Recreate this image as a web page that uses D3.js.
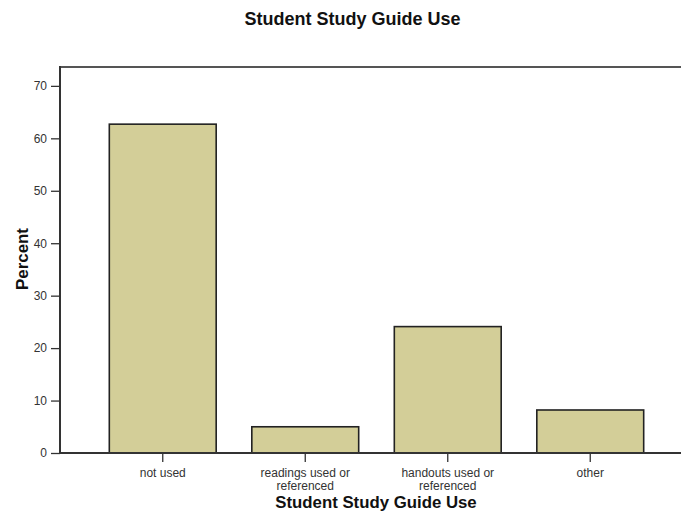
<!DOCTYPE html>
<html>
<head>
<meta charset="utf-8">
<script src="https://cdn.jsdelivr.net/npm/d3@7/dist/d3.min.js"></script>
<style>
  html, body { margin: 0; padding: 0; background: #fff; overflow: hidden; }
  svg { display: block; }
</style>
</head>
<body>
<svg id="chart" width="681" height="517"></svg>
<script>
const categories = ["not used", "readings used or referenced", "handouts used or referenced", "other"];
const categoryLines = [["not used"], ["readings used or", "referenced"], ["handouts used or", "referenced"], ["other"]];
const percentValues = [62.7, 5.0, 24.1, 8.2];
const yTicks = [0, 10, 20, 30, 40, 50, 60, 70];
const chartTitle = "Student Study Guide Use";
const xTitle = "Student Study Guide Use";
const yTitle = "Percent";

const svg = d3.select("#chart");
const W = 681, H = 517;
const frameLeft = 60, frameTop = 67, baseY = 453;
const sans = "Liberation Sans, Arial, sans-serif";

const x = d3.scaleBand().domain(categories).range([91.5, 661.5]).paddingInner(0.25).paddingOuter(0.125);
const y = d3.scaleLinear().domain([0, 73.6]).range([baseY, frameTop]);

// frame top line
svg.append("line").attr("x1", frameLeft).attr("x2", W + 10).attr("y1", frameTop).attr("y2", frameTop)
  .attr("stroke", "#555").attr("stroke-width", 2);

// bars
svg.append("g").selectAll("rect").data(percentValues).join("rect")
  .attr("x", (d, i) => x(categories[i]))
  .attr("y", d => y(d))
  .attr("width", x.bandwidth())
  .attr("height", d => baseY - y(d))
  .attr("fill", "#d3ce98")
  .attr("stroke", "#222")
  .attr("stroke-width", 1.6);

// y axis
const yAxis = d3.axisLeft(y).tickValues(yTicks).tickSize(9).tickPadding(4).tickSizeOuter(0);
const gy = svg.append("g").attr("transform", `translate(${frameLeft},0)`).call(yAxis);
gy.select(".domain").attr("stroke", "#333").attr("stroke-width", 2)
  .attr("d", `M0,${frameTop - 1}V${baseY}`);
gy.selectAll(".tick line").attr("stroke", "#333").attr("stroke-width", 1.3);
gy.selectAll(".tick text").attr("font-family", sans).attr("font-size", 12).attr("fill", "#333");

// x axis
const xAxis = d3.axisBottom(x).tickSize(9).tickSizeOuter(0).tickFormat("");
const gx = svg.append("g").attr("transform", `translate(0,${baseY})`).call(xAxis);
gx.select(".domain").attr("stroke", "#333").attr("stroke-width", 2)
  .attr("d", `M${frameLeft - 1},0H${W + 10}`);
gx.selectAll(".tick line").attr("stroke", "#333").attr("stroke-width", 1.3);

// category labels
svg.append("g").selectAll("text").data(categories).join("text")
  .attr("x", d => x(d) + x.bandwidth() / 2)
  .attr("y", 477)
  .attr("text-anchor", "middle")
  .attr("font-family", sans)
  .attr("font-size", 12)
  .attr("fill", "#333")
  .each(function(d, i) {
    const t = d3.select(this);
    categoryLines[i].forEach((ln, j) => {
      t.append("tspan").attr("x", x(d) + x.bandwidth() / 2).attr("dy", j === 0 ? 0 : 12.7).text(ln);
    });
  });

// titles
svg.append("text").attr("x", 352.5).attr("y", 24.5).attr("text-anchor", "middle")
  .attr("font-family", sans).attr("font-weight", "bold").attr("font-size", 18)
  .attr("fill", "#111").text(chartTitle);

svg.append("text").attr("x", 376).attr("y", 507.5).attr("text-anchor", "middle")
  .attr("font-family", sans).attr("font-weight", "bold").attr("font-size", 16.8)
  .attr("fill", "#111").text(xTitle);

svg.append("text").attr("transform", "translate(28,259) rotate(-90)").attr("text-anchor", "middle")
  .attr("font-family", sans).attr("font-weight", "bold").attr("font-size", 16.9)
  .attr("fill", "#111").text(yTitle);
</script>
</body>
</html>
